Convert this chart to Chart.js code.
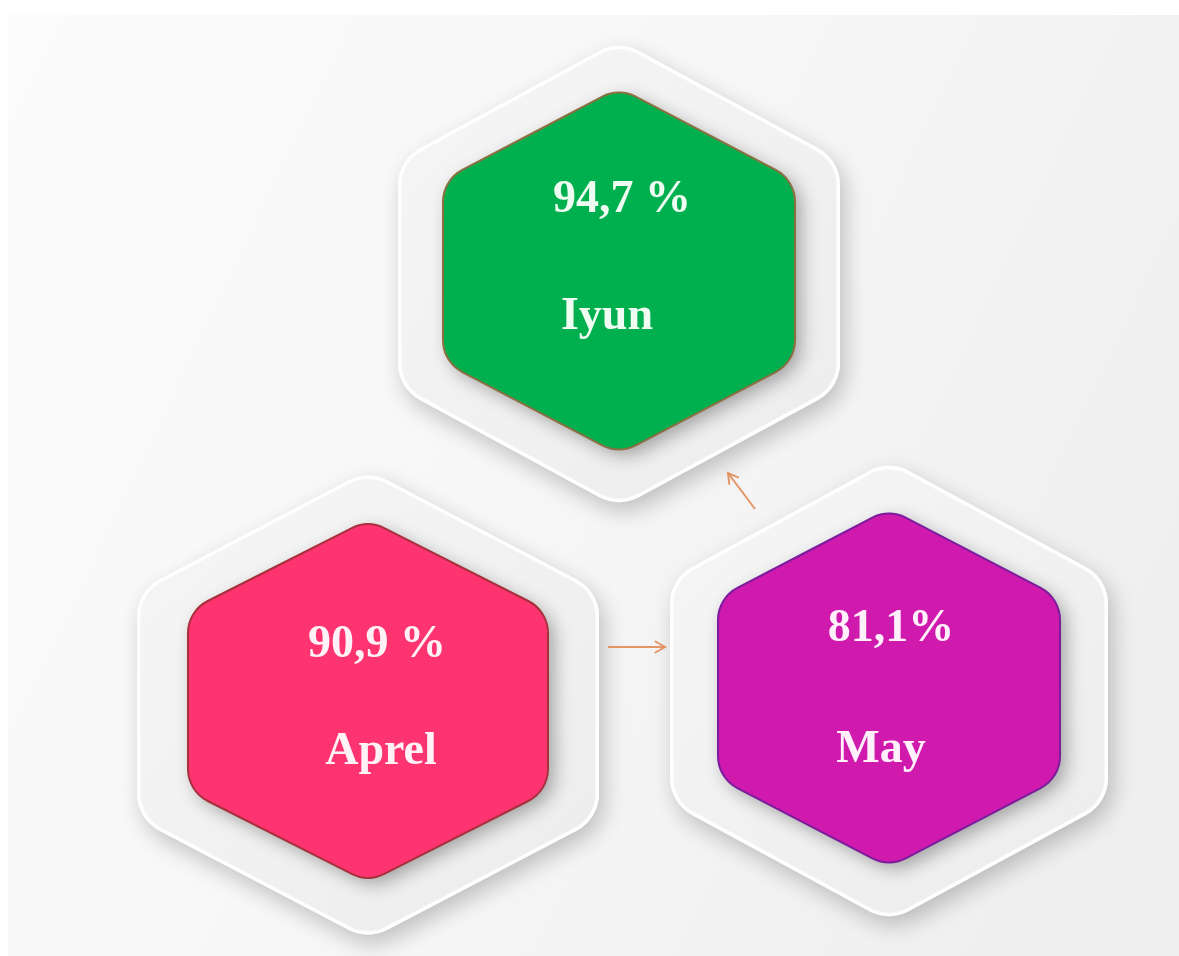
<!DOCTYPE html>
<html>
<head>
<meta charset="utf-8">
<script src="https://cdn.jsdelivr.net/npm/chart.js@4.4.1/dist/chart.umd.min.js"></script>
<style>
  html, body { margin: 0; padding: 0; background: #ffffff; }
  #wrap { width: 1179px; height: 956px; position: relative; }
</style>
</head>
<body>
<div id="wrap"><canvas id="c"></canvas></div>
<script>
// ---------------- DATA ----------------
const months = ['Aprel', 'May', 'Iyun'];
const percentValues = [90.9, 81.1, 94.7];
const percentLabels = ['90,9 %', '81,1%', '94,7 %'];
// flow between months (index pairs): Aprel -> May -> Iyun
const flowFrom = [0, 1];
const flowTo = [1, 2];

// ---------------- LAYOUT (units of the hidden linear scales) ----------------
const layout = {
  hex: [
    { cx: 368, cy: 701, iw: 180, ih: 181, is: 90, ow: 231, oh: 235, os: 114, ody: 4, tx1: 377, ty1: 657, tx2: 381, ty2: 764 },
    { cx: 889, cy: 688, iw: 171, ih: 179, is: 90, ow: 219, oh: 231, os: 112, ody: 3, tx1: 891, ty1: 641, tx2: 881, ty2: 762 },
    { cx: 619, cy: 271, iw: 176, ih: 183, is: 91, ow: 221, oh: 234, os: 114, ody: 3, tx1: 622, ty1: 212, tx2: 607, ty2: 329 }
  ],
  arrows: [
    { x1: 608, y1: 647, x2: 665, y2: 647 },
    { x1: 755, y1: 509, x2: 728, y2: 473 }
  ],
  innerRadius: 36,
  outerRadius: 42
};

// ---------------- STYLE ----------------
const style = {
  fills:   ['#fe3471', '#d01aad', '#00b04f'],
  strokes: ['#a8303c', '#7a1c9c', '#8a7040'],
  textColors: ['#fff2f6', '#fff0fb', '#effcf1'],
  arrowColor: 'rgba(226,140,88,0.9)',
  font: 'bold 46px "Liberation Serif", "Times New Roman", serif'
};

function hexPath(ctx, cx, cy, W, H, s, r) {
  const pts = [[cx, cy - H], [cx + W, cy - s], [cx + W, cy + s], [cx, cy + H], [cx - W, cy + s], [cx - W, cy - s]];
  const n = pts.length;
  ctx.beginPath();
  ctx.moveTo((pts[n - 1][0] + pts[0][0]) / 2, (pts[n - 1][1] + pts[0][1]) / 2);
  for (let i = 0; i < n; i++) {
    const p = pts[i], q = pts[(i + 1) % n];
    ctx.arcTo(p[0], p[1], q[0], q[1], r);
  }
  ctx.closePath();
}

const bgPlugin = {
  id: 'bg',
  beforeDraw(chart) {
    const ctx = chart.ctx;
    const w = chart.width, h = chart.height;
    ctx.save();
    ctx.fillStyle = '#ffffff';
    ctx.fillRect(0, 0, w, h);
    const g = ctx.createLinearGradient(8, 15, w, h * 0.6);
    g.addColorStop(0, '#fbfbfb');
    g.addColorStop(0.5, '#f7f7f7');
    g.addColorStop(1, '#efefef');
    ctx.fillStyle = g;
    ctx.fillRect(8, 15, w - 8, h - 15);
    ctx.restore();
  }
};

const hexPlugin = {
  id: 'hexagons',
  beforeDatasetsDraw(chart) {
    const ctx = chart.ctx;
    const xs = chart.scales.x, ys = chart.scales.y;
    const meta = chart.getDatasetMeta(0);
    const sx = v => Math.abs(xs.getPixelForValue(v) - xs.getPixelForValue(0));
    const sy = v => Math.abs(ys.getPixelForValue(v) - ys.getPixelForValue(0));
    const rI = layout.innerRadius, rO = layout.outerRadius;
    meta.data.forEach((pt, i) => {
      const L = layout.hex[i];
      const cx = pt.x, cy = pt.y;
      const ocy = cy + sy(L.ody);
      // outer plate with drop shadow
      ctx.save();
      ctx.shadowColor = 'rgba(0,0,0,0.22)';
      ctx.shadowBlur = 22;
      ctx.shadowOffsetX = 5;
      ctx.shadowOffsetY = 9;
      hexPath(ctx, cx, ocy, sx(L.ow), sy(L.oh), sy(L.os), rO);
      ctx.fillStyle = '#f2f2f2';
      ctx.fill();
      ctx.restore();
      // outer plate gradient + white rim
      ctx.save();
      hexPath(ctx, cx, ocy, sx(L.ow), sy(L.oh), sy(L.os), rO);
      const g = ctx.createLinearGradient(cx - sx(L.ow), ocy - sy(L.oh), cx + sx(L.ow), ocy + sy(L.oh));
      g.addColorStop(0, '#f6f6f6');
      g.addColorStop(1, '#ececec');
      ctx.fillStyle = g;
      ctx.fill();
      ctx.clip();
      ctx.strokeStyle = 'rgba(255,255,255,0.9)';
      ctx.lineWidth = 7;
      ctx.stroke();
      ctx.restore();
      // inner coloured hexagon with shadow
      ctx.save();
      ctx.shadowColor = 'rgba(0,0,0,0.32)';
      ctx.shadowBlur = 18;
      ctx.shadowOffsetX = 6;
      ctx.shadowOffsetY = 6;
      hexPath(ctx, cx, cy, sx(L.iw), sy(L.ih), sy(L.is), rI);
      ctx.fillStyle = style.fills[i];
      ctx.fill();
      ctx.restore();
      ctx.save();
      hexPath(ctx, cx, cy, sx(L.iw), sy(L.ih), sy(L.is), rI);
      ctx.strokeStyle = style.strokes[i];
      ctx.lineWidth = 2;
      ctx.stroke();
      ctx.restore();
      // labels
      ctx.save();
      ctx.font = style.font;
      ctx.fillStyle = style.textColors[i];
      ctx.textAlign = 'center';
      ctx.textBaseline = 'alphabetic';
      ctx.fillText(percentLabels[i], xs.getPixelForValue(L.tx1), ys.getPixelForValue(L.ty1));
      ctx.fillText(months[i], xs.getPixelForValue(L.tx2), ys.getPixelForValue(L.ty2));
      ctx.restore();
    });
  }
};

const arrowHeadPlugin = {
  id: 'arrowHeads',
  afterDatasetsDraw(chart) {
    const ctx = chart.ctx;
    chart.data.datasets.forEach((ds, di) => {
      if (!ds.isArrow) return;
      const pts = chart.getDatasetMeta(di).data;
      const a = pts[pts.length - 2], b = pts[pts.length - 1];
      const ang = Math.atan2(b.y - a.y, b.x - a.x);
      const len = 11, spread = Math.PI / 6;
      ctx.save();
      ctx.strokeStyle = ds.borderColor;
      ctx.lineWidth = ds.borderWidth;
      ctx.lineCap = 'round';
      ctx.beginPath();
      ctx.moveTo(b.x - len * Math.cos(ang - spread), b.y - len * Math.sin(ang - spread));
      ctx.lineTo(b.x, b.y);
      ctx.lineTo(b.x - len * Math.cos(ang + spread), b.y - len * Math.sin(ang + spread));
      ctx.stroke();
      ctx.restore();
    });
  }
};

const arrowDatasets = flowFrom.map((f, k) => {
  const A = layout.arrows[k];
  return {
    type: 'line',
    label: months[f] + ' → ' + months[flowTo[k]],
    isArrow: true,
    data: [{ x: A.x1, y: A.y1 }, { x: A.x2, y: A.y2 }],
    borderColor: style.arrowColor,
    borderWidth: 2,
    pointRadius: 0,
    showLine: true,
    fill: false
  };
});

new Chart(document.getElementById('c'), {
  type: 'scatter',
  data: {
    datasets: [
      {
        label: 'Natija',
        data: months.map((m, i) => ({ x: layout.hex[i].cx, y: layout.hex[i].cy, v: percentValues[i] })),
        pointRadius: 0,
        pointHoverRadius: 0
      },
      ...arrowDatasets
    ]
  },
  options: {
    responsive: true,
    maintainAspectRatio: false,
    animation: false,
    layout: { padding: 0 },
    scales: {
      x: { type: 'linear', min: 0, max: 1179, display: false },
      y: { type: 'linear', min: 0, max: 956, reverse: true, display: false }
    },
    plugins: { legend: { display: false }, tooltip: { enabled: false } }
  },
  plugins: [bgPlugin, hexPlugin, arrowHeadPlugin]
});
</script>
</body>
</html>
